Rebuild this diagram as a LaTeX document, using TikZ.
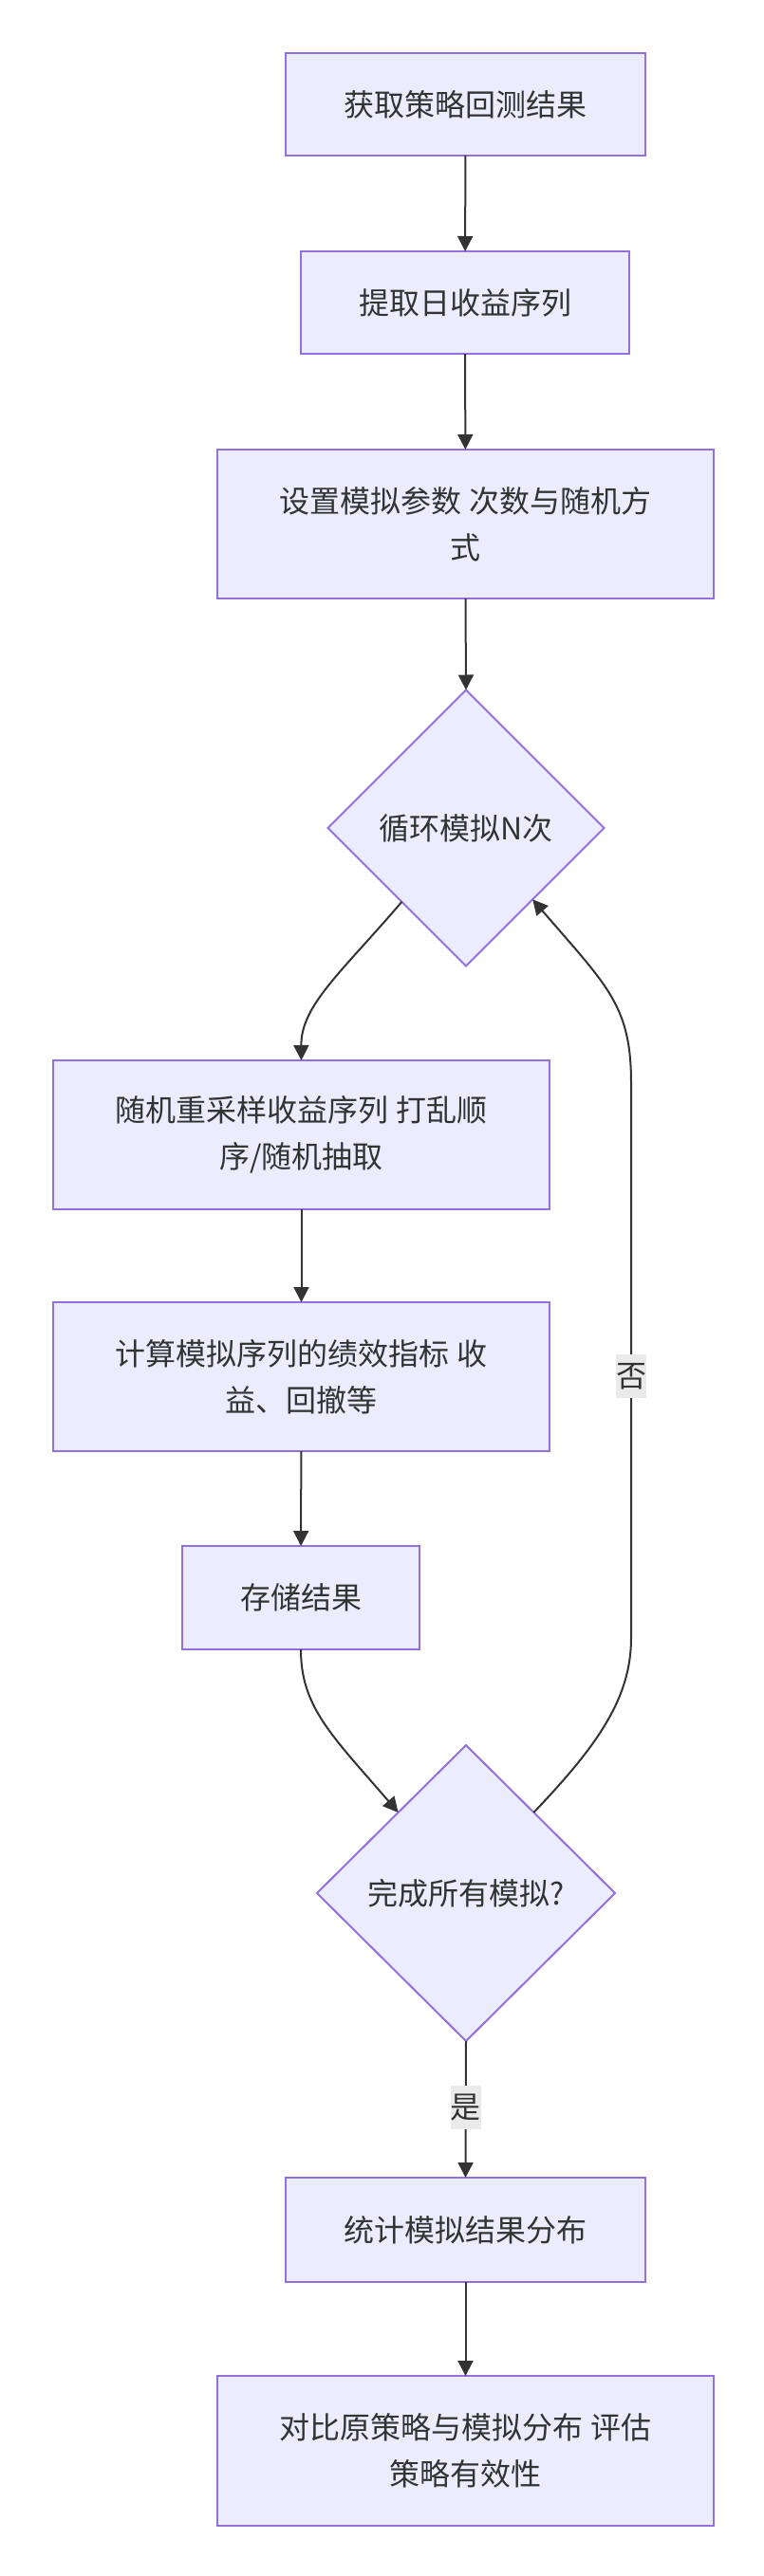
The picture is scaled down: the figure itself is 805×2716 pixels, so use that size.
\documentclass[tikz,border=0pt]{standalone}
\usepackage{fontspec}
\setmainfont{Noto Sans CJK SC}
\usetikzlibrary{arrows.meta,shapes.geometric}
\definecolor{boxfill}{HTML}{ECECFF}
\definecolor{boxline}{HTML}{9370DB}
\definecolor{ink}{HTML}{333333}
\definecolor{lblbg}{HTML}{EAEAEA}
\begin{document}
\begin{tikzpicture}[x=1pt,y=-1pt,
  box/.style={draw=boxline, fill=boxfill, line width=2pt, text=ink, align=center,
    inner sep=0pt, outer sep=0pt, font=\fontsize{32}{49}\selectfont},
  dec/.style={diamond, aspect=1, draw=boxline, fill=boxfill, line width=2pt, text=ink,
    inner sep=0pt, outer sep=0pt, font=\fontsize{32}{49}\selectfont},
  arr/.style={draw=ink, line width=2pt, -{Triangle[length=16pt,width=16pt]}},
  lbl/.style={fill=lblbg, text=ink, inner sep=0pt, minimum width=32pt, minimum height=46pt,
    font=\fontsize{32}{40}\selectfont}
]
\useasboundingbox (0,0) rectangle (805,2716);
\fill[white] (0,0) rectangle (805,2716);

\node[box, minimum width=379pt, minimum height=108pt] (b1) at (490.5,110) {获取策略回测结果};
\node[box, minimum width=346pt, minimum height=108pt] (b2) at (490,319) {提取日收益序列};
\node[box, minimum width=523pt, minimum height=157pt] (b3) at (490.5,552.5) {设置模拟参数 次数与随机方\\式};
\node[dec, minimum width=291pt, minimum height=291pt] (d1) at (491,873) {循环模拟N次};
\node[box, minimum width=523pt, minimum height=157pt] (b4) at (317.5,1196.5) {随机重采样收益序列 打乱顺\\序/随机抽取};
\node[box, minimum width=523pt, minimum height=157pt] (b5) at (317.5,1451.5) {计算模拟序列的绩效指标 收\\益、回撤等};
\node[box, minimum width=250pt, minimum height=109pt] (b6) at (317,1684.5) {存储结果};
\node[dec, minimum width=314pt, minimum height=312pt] (d2) at (491,1996) {完成所有模拟?};
\node[box, minimum width=379pt, minimum height=110pt] (b7) at (490.5,2351) {统计模拟结果分布};
\node[box, minimum width=523pt, minimum height=158pt] (b8) at (490.5,2584) {对比原策略与模拟分布 评估\\策略有效性};

\draw[arr] (b1) -- (b2);
\draw[arr] (b2) -- (b3);
\draw[arr] (b3.south) -- (d1.north);
\draw[arr] (d1.229) .. controls (360,1025) and (317,1060) .. (b4.north);
\draw[arr] (b4) -- (b5);
\draw[arr] (b5) -- (b6);
\draw[arr] (b6.south) .. controls (317,1800) and (350,1830) .. (d2.130);
\draw[arr] (d2.50) .. controls (630,1840) and (665,1790) .. (665,1727)
  -- node[lbl, pos=0.472] (lno) {否} (665,1142)
  .. controls (665,1060) and (640,1040) .. (d1.-47);
\draw[arr] (d2.south) -- node[lbl, pos=0.486] (lyes) {是} (b7.north);
\draw[arr] (b7) -- (b8);
\end{tikzpicture}
\end{document}
